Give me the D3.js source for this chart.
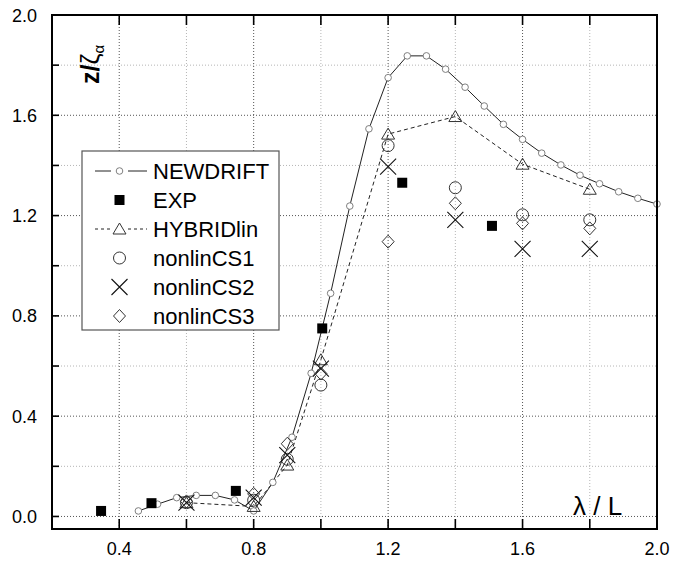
<html lang="en">
<head>
    <meta charset="UTF-8">
    <title>z / zeta vs lambda / L</title>
    <style>
        body { margin: 0; background: #fff; }
        svg { font-family: "Liberation Sans", Arial, sans-serif; }
        .tick-label { font-size: 18px; fill: #000; }
        .legend-text { font-size: 22px; fill: #000; }
    </style>
</head>
<body>
<svg id="chart" width="683" height="563"></svg>
<script src="https://d3js.org/d3.v7.min.js"></script>
<script>
    // NEWDRIFT curve
    const newdriftX = [0.457, 0.514, 0.571, 0.629, 0.686, 0.743, 0.800, 0.857, 0.914, 0.971,
                       1.029, 1.086, 1.143, 1.200, 1.257, 1.314, 1.371, 1.429, 1.486, 1.543,
                       1.600, 1.657, 1.714, 1.771, 1.829, 1.886, 1.943, 2.000];
    const newdriftY = [0.022, 0.049, 0.075, 0.084, 0.084, 0.066, 0.022, 0.136, 0.316, 0.571,
                       0.890, 1.238, 1.546, 1.750, 1.837, 1.837, 1.784, 1.712, 1.637, 1.564,
                       1.504, 1.449, 1.402, 1.361, 1.327, 1.295, 1.269, 1.246];

    // experiment
    const expX = [0.346, 0.496, 0.747, 1.004, 1.242, 1.509];
    const expY = [0.022, 0.053, 0.102, 0.750, 1.331, 1.159];

    // computed cases share the same wave lengths
    const caseX = [0.6, 0.8, 0.9, 1.0, 1.2, 1.4, 1.6, 1.8];
    const hybridY = [0.055, 0.040, 0.205, 0.625, 1.525, 1.595, 1.405, 1.305];
    const cs1Y = [0.055, 0.065, 0.228, 0.524, 1.479, 1.311, 1.203, 1.183];
    const cs2Y = [0.055, 0.075, 0.245, 0.590, 1.395, 1.183, 1.067, 1.067];
    const cs3Y = [0.060, 0.090, 0.290, 0.570, 1.096, 1.249, 1.169, 1.149];

    const xTicks = [0.4, 0.6, 0.8, 1.0, 1.2, 1.4, 1.6, 1.8, 2.0];
    const xLabels = ["0.4", "0.8", "1.2", "1.6", "2.0"];
    const yTicks = [0.0, 0.2, 0.4, 0.6, 0.8, 1.0, 1.2, 1.4, 1.6, 1.8, 2.0];
    const yLabels = ["0.0", "0.4", "0.8", "1.2", "1.6", "2.0"];

    const legendNames = ["NEWDRIFT", "EXP", "HYBRIDlin", "nonlinCS1", "nonlinCS2", "nonlinCS3"];

    const svg = d3.select("#chart");
    const plotL = 52, plotR = 657, plotT = 15, plotB = 529;

    const x = d3.scaleLinear().domain([0.2, 2.0]).range([plotL, plotR]);
    const y = d3.scaleLinear().domain([-0.05, 2.0]).range([plotB, plotT]);

    const isMajor = v => Math.abs(Math.round(v * 10) % 4) < 0.01;

    // grid
    const grid = svg.append("g");
    grid.selectAll(".gx")
        .data(xTicks.filter(v => v < 2.0))
        .enter().append("line")
        .attr("x1", d => x(d)).attr("x2", d => x(d))
        .attr("y1", plotT).attr("y2", plotB)
        .attr("stroke", d => isMajor(d) ? "#555" : "#b5b5b5")
        .attr("stroke-dasharray", "1,2");
    grid.selectAll(".gy")
        .data(yTicks.filter(v => v < 2.0))
        .enter().append("line")
        .attr("y1", d => y(d)).attr("y2", d => y(d))
        .attr("x1", plotL).attr("x2", plotR)
        .attr("stroke", d => isMajor(d) ? "#555" : "#b5b5b5")
        .attr("stroke-dasharray", "1,2");

    // curves
    const line = d3.line().x(d => x(d[0])).y(d => y(d[1]));
    const ndPts = newdriftX.map((v, i) => [v, newdriftY[i]]);
    const hyPts = caseX.map((v, i) => [v, hybridY[i]]);

    svg.append("path").datum(ndPts)
        .attr("d", line).attr("fill", "none")
        .attr("stroke", "#222").attr("stroke-width", 1);
    svg.append("path").datum(hyPts)
        .attr("d", line).attr("fill", "none")
        .attr("stroke", "#222").attr("stroke-width", 1)
        .attr("stroke-dasharray", "4,3");

    // marker shapes
    function drawMarker(g, type, cx, cy) {
        if (type === "small") {
            g.append("circle").attr("cx", cx).attr("cy", cy).attr("r", 3.3)
                .attr("fill", "#fff").attr("stroke", "#808080").attr("stroke-width", 1);
        } else if (type === "square") {
            g.append("rect").attr("x", cx - 5).attr("y", cy - 5).attr("width", 10).attr("height", 10)
                .attr("fill", "#000");
        } else if (type === "triangle") {
            g.append("path")
                .attr("d", `M${cx},${cy - 6}L${cx + 6.5},${cy + 5}L${cx - 6.5},${cy + 5}Z`)
                .attr("fill", "none").attr("stroke", "#333").attr("stroke-width", 1);
        } else if (type === "circle") {
            g.append("circle").attr("cx", cx).attr("cy", cy).attr("r", 6)
                .attr("fill", "none").attr("stroke", "#333").attr("stroke-width", 1);
        } else if (type === "cross") {
            g.append("path")
                .attr("d", `M${cx - 8},${cy - 8}L${cx + 8},${cy + 8}M${cx - 8},${cy + 8}L${cx + 8},${cy - 8}`)
                .attr("stroke", "#111").attr("stroke-width", 1.1);
        } else if (type === "diamond") {
            g.append("path")
                .attr("d", `M${cx},${cy - 6.5}L${cx + 6},${cy}L${cx},${cy + 6.5}L${cx - 6},${cy}Z`)
                .attr("fill", "none").attr("stroke", "#333").attr("stroke-width", 1);
        }
    }

    const marks = svg.append("g");
    ndPts.forEach(d => drawMarker(marks, "small", x(d[0]), y(d[1])));
    expX.forEach((v, i) => drawMarker(marks, "square", x(v), y(expY[i])));
    caseX.forEach((v, i) => drawMarker(marks, "triangle", x(v), y(hybridY[i])));
    caseX.forEach((v, i) => drawMarker(marks, "circle", x(v), y(cs1Y[i])));
    caseX.forEach((v, i) => drawMarker(marks, "cross", x(v), y(cs2Y[i])));
    caseX.forEach((v, i) => drawMarker(marks, "diamond", x(v), y(cs3Y[i])));

    // frame and ticks
    svg.append("rect")
        .attr("x", plotL).attr("y", plotT)
        .attr("width", plotR - plotL).attr("height", plotB - plotT)
        .attr("fill", "none").attr("stroke", "#000").attr("stroke-width", 2);

    const ticks = svg.append("g").attr("stroke", "#000").attr("stroke-width", 1.6);
    xTicks.filter(v => v < 2.0).forEach(v => {
        ticks.append("line").attr("x1", x(v)).attr("x2", x(v)).attr("y1", plotB).attr("y2", plotB - 10);
        ticks.append("line").attr("x1", x(v)).attr("x2", x(v)).attr("y1", plotT).attr("y2", plotT + 10);
    });
    yTicks.filter(v => v < 2.0).forEach(v => {
        ticks.append("line").attr("x1", plotL).attr("x2", plotL + 7).attr("y1", y(v)).attr("y2", y(v));
    });

    svg.selectAll(".xl")
        .data(xLabels)
        .enter().append("text")
        .attr("class", "tick-label")
        .attr("x", d => x(+d)).attr("y", 555)
        .attr("text-anchor", "middle")
        .text(d => d);
    svg.selectAll(".yl")
        .data(yLabels)
        .enter().append("text")
        .attr("class", "tick-label")
        .attr("x", 37).attr("y", d => y(+d) + 6.5)
        .attr("text-anchor", "end")
        .text(d => d);

    // axis titles
    svg.append("text")
        .attr("x", 573).attr("y", 515)
        .attr("font-size", 26)
        .text("λ / L");

    const yt = svg.append("text")
        .attr("transform", "translate(99,84) rotate(-90)")
        .attr("font-size", 25);
    yt.append("tspan").attr("font-weight", "bold").text("z/");
    yt.append("tspan").text("ζ");
    yt.append("tspan").attr("font-size", 15).attr("dy", 5).text("α");

    // legend
    const lg = svg.append("g");
    lg.append("rect")
        .attr("x", 82).attr("y", 151).attr("width", 197).attr("height", 179)
        .attr("fill", "#fff").attr("stroke", "#555").attr("stroke-width", 1.2);

    const legendTypes = ["small", "square", "triangle", "circle", "cross", "diamond"];
    legendNames.forEach((name, i) => {
        const cy = 171 + i * 29;
        if (i === 0 || i === 2) {
            const dash = i === 2 ? "3,3" : null;
            lg.append("line").attr("x1", 95).attr("x2", 111).attr("y1", cy).attr("y2", cy)
                .attr("stroke", "#222").attr("stroke-dasharray", dash);
            lg.append("line").attr("x1", 128).attr("x2", 147).attr("y1", cy).attr("y2", cy)
                .attr("stroke", "#222").attr("stroke-dasharray", dash);
        }
        drawMarker(lg, legendTypes[i], 119.5, cy);
        lg.append("text")
            .attr("class", "legend-text")
            .attr("x", 153).attr("y", cy + 8)
            .text(name);
    });
</script>
</body>
</html>
